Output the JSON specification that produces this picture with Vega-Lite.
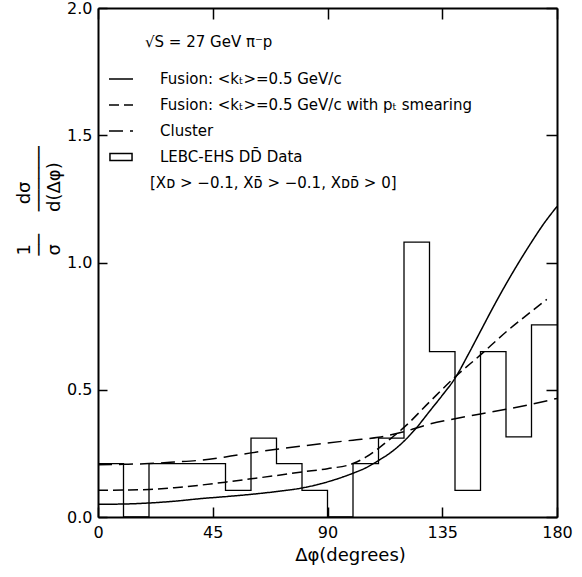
{
  "$schema": "https://vega.github.io/schema/vega-lite/v6.json",
  "width": 459,
  "height": 509,
  "autosize": {"type": "none"},
  "padding": {"left": 98, "top": 8, "right": 25, "bottom": 60},
  "background": "white",
  "config": {
    "view": {"stroke": null},
    "font": "DejaVu Sans",
    "axis": {"grid": false, "labelFont": "DejaVu Sans", "titleFont": "DejaVu Sans", "labelColor": "black", "titleColor": "black", "tickColor": "black", "domainColor": "black"}
  },
  "datasets": {
    "hist": [
      {"phi": 0, "value": 0.21, "series": "LEBC-EHS DD̄ Data"},
      {"phi": 10, "value": 0, "series": "LEBC-EHS DD̄ Data"},
      {"phi": 20, "value": 0.21, "series": "LEBC-EHS DD̄ Data"},
      {"phi": 30, "value": 0.21, "series": "LEBC-EHS DD̄ Data"},
      {"phi": 40, "value": 0.21, "series": "LEBC-EHS DD̄ Data"},
      {"phi": 50, "value": 0.105, "series": "LEBC-EHS DD̄ Data"},
      {"phi": 60, "value": 0.31, "series": "LEBC-EHS DD̄ Data"},
      {"phi": 70, "value": 0.21, "series": "LEBC-EHS DD̄ Data"},
      {"phi": 80, "value": 0.105, "series": "LEBC-EHS DD̄ Data"},
      {"phi": 90, "value": 0, "series": "LEBC-EHS DD̄ Data"},
      {"phi": 100, "value": 0.21, "series": "LEBC-EHS DD̄ Data"},
      {"phi": 110, "value": 0.31, "series": "LEBC-EHS DD̄ Data"},
      {"phi": 120, "value": 1.08, "series": "LEBC-EHS DD̄ Data"},
      {"phi": 130, "value": 0.65, "series": "LEBC-EHS DD̄ Data"},
      {"phi": 140, "value": 0.105, "series": "LEBC-EHS DD̄ Data"},
      {"phi": 150, "value": 0.65, "series": "LEBC-EHS DD̄ Data"},
      {"phi": 160, "value": 0.315, "series": "LEBC-EHS DD̄ Data"},
      {"phi": 170, "value": 0.755, "series": "LEBC-EHS DD̄ Data"},
      {"phi": 180, "value": 0.755, "series": "LEBC-EHS DD̄ Data"}
    ],
    "curves": [
      {"phi": 0, "value": 0.05, "series": "Fusion: <kₜ>=0.5 GeV/c"},
      {"phi": 10, "value": 0.051, "series": "Fusion: <kₜ>=0.5 GeV/c"},
      {"phi": 20, "value": 0.055, "series": "Fusion: <kₜ>=0.5 GeV/c"},
      {"phi": 30, "value": 0.062, "series": "Fusion: <kₜ>=0.5 GeV/c"},
      {"phi": 40, "value": 0.072, "series": "Fusion: <kₜ>=0.5 GeV/c"},
      {"phi": 50, "value": 0.08, "series": "Fusion: <kₜ>=0.5 GeV/c"},
      {"phi": 60, "value": 0.089, "series": "Fusion: <kₜ>=0.5 GeV/c"},
      {"phi": 70, "value": 0.1, "series": "Fusion: <kₜ>=0.5 GeV/c"},
      {"phi": 80, "value": 0.114, "series": "Fusion: <kₜ>=0.5 GeV/c"},
      {"phi": 90, "value": 0.138, "series": "Fusion: <kₜ>=0.5 GeV/c"},
      {"phi": 100, "value": 0.172, "series": "Fusion: <kₜ>=0.5 GeV/c"},
      {"phi": 105, "value": 0.193, "series": "Fusion: <kₜ>=0.5 GeV/c"},
      {"phi": 110, "value": 0.222, "series": "Fusion: <kₜ>=0.5 GeV/c"},
      {"phi": 115, "value": 0.255, "series": "Fusion: <kₜ>=0.5 GeV/c"},
      {"phi": 120, "value": 0.298, "series": "Fusion: <kₜ>=0.5 GeV/c"},
      {"phi": 125, "value": 0.352, "series": "Fusion: <kₜ>=0.5 GeV/c"},
      {"phi": 130, "value": 0.415, "series": "Fusion: <kₜ>=0.5 GeV/c"},
      {"phi": 135, "value": 0.478, "series": "Fusion: <kₜ>=0.5 GeV/c"},
      {"phi": 140, "value": 0.545, "series": "Fusion: <kₜ>=0.5 GeV/c"},
      {"phi": 145, "value": 0.635, "series": "Fusion: <kₜ>=0.5 GeV/c"},
      {"phi": 150, "value": 0.73, "series": "Fusion: <kₜ>=0.5 GeV/c"},
      {"phi": 155, "value": 0.825, "series": "Fusion: <kₜ>=0.5 GeV/c"},
      {"phi": 160, "value": 0.915, "series": "Fusion: <kₜ>=0.5 GeV/c"},
      {"phi": 165, "value": 1.0, "series": "Fusion: <kₜ>=0.5 GeV/c"},
      {"phi": 170, "value": 1.08, "series": "Fusion: <kₜ>=0.5 GeV/c"},
      {"phi": 175, "value": 1.155, "series": "Fusion: <kₜ>=0.5 GeV/c"},
      {"phi": 180, "value": 1.22, "series": "Fusion: <kₜ>=0.5 GeV/c"},
      {"phi": 0, "value": 0.105, "series": "Fusion: <kₜ>=0.5 GeV/c with pₜ smearing"},
      {"phi": 10, "value": 0.106, "series": "Fusion: <kₜ>=0.5 GeV/c with pₜ smearing"},
      {"phi": 20, "value": 0.108, "series": "Fusion: <kₜ>=0.5 GeV/c with pₜ smearing"},
      {"phi": 30, "value": 0.115, "series": "Fusion: <kₜ>=0.5 GeV/c with pₜ smearing"},
      {"phi": 40, "value": 0.125, "series": "Fusion: <kₜ>=0.5 GeV/c with pₜ smearing"},
      {"phi": 50, "value": 0.137, "series": "Fusion: <kₜ>=0.5 GeV/c with pₜ smearing"},
      {"phi": 60, "value": 0.15, "series": "Fusion: <kₜ>=0.5 GeV/c with pₜ smearing"},
      {"phi": 70, "value": 0.163, "series": "Fusion: <kₜ>=0.5 GeV/c with pₜ smearing"},
      {"phi": 80, "value": 0.177, "series": "Fusion: <kₜ>=0.5 GeV/c with pₜ smearing"},
      {"phi": 90, "value": 0.19, "series": "Fusion: <kₜ>=0.5 GeV/c with pₜ smearing"},
      {"phi": 100, "value": 0.21, "series": "Fusion: <kₜ>=0.5 GeV/c with pₜ smearing"},
      {"phi": 105, "value": 0.235, "series": "Fusion: <kₜ>=0.5 GeV/c with pₜ smearing"},
      {"phi": 110, "value": 0.27, "series": "Fusion: <kₜ>=0.5 GeV/c with pₜ smearing"},
      {"phi": 115, "value": 0.31, "series": "Fusion: <kₜ>=0.5 GeV/c with pₜ smearing"},
      {"phi": 120, "value": 0.352, "series": "Fusion: <kₜ>=0.5 GeV/c with pₜ smearing"},
      {"phi": 130, "value": 0.452, "series": "Fusion: <kₜ>=0.5 GeV/c with pₜ smearing"},
      {"phi": 140, "value": 0.55, "series": "Fusion: <kₜ>=0.5 GeV/c with pₜ smearing"},
      {"phi": 150, "value": 0.637, "series": "Fusion: <kₜ>=0.5 GeV/c with pₜ smearing"},
      {"phi": 160, "value": 0.727, "series": "Fusion: <kₜ>=0.5 GeV/c with pₜ smearing"},
      {"phi": 170, "value": 0.808, "series": "Fusion: <kₜ>=0.5 GeV/c with pₜ smearing"},
      {"phi": 176, "value": 0.855, "series": "Fusion: <kₜ>=0.5 GeV/c with pₜ smearing"},
      {"phi": 0, "value": 0.205, "series": "Cluster"},
      {"phi": 10, "value": 0.207, "series": "Cluster"},
      {"phi": 20, "value": 0.21, "series": "Cluster"},
      {"phi": 30, "value": 0.216, "series": "Cluster"},
      {"phi": 40, "value": 0.223, "series": "Cluster"},
      {"phi": 50, "value": 0.236, "series": "Cluster"},
      {"phi": 60, "value": 0.252, "series": "Cluster"},
      {"phi": 70, "value": 0.266, "series": "Cluster"},
      {"phi": 80, "value": 0.279, "series": "Cluster"},
      {"phi": 90, "value": 0.291, "series": "Cluster"},
      {"phi": 100, "value": 0.302, "series": "Cluster"},
      {"phi": 110, "value": 0.313, "series": "Cluster"},
      {"phi": 120, "value": 0.335, "series": "Cluster"},
      {"phi": 130, "value": 0.365, "series": "Cluster"},
      {"phi": 140, "value": 0.386, "series": "Cluster"},
      {"phi": 150, "value": 0.405, "series": "Cluster"},
      {"phi": 160, "value": 0.423, "series": "Cluster"},
      {"phi": 170, "value": 0.443, "series": "Cluster"},
      {"phi": 180, "value": 0.466, "series": "Cluster"}
    ]
  },
  "layer": [
    {
      "data": {"name": "hist"},
      "mark": {"type": "line", "interpolate": "step-after", "strokeWidth": 1.3, "color": "black"},
      "encoding": {
        "x": {
          "field": "phi", "type": "quantitative",
          "scale": {"domain": [0, 180], "nice": false, "zero": false},
          "axis": {
            "orient": "bottom", "values": [0, 45, 90, 135, 180], "format": "d",
            "tickSize": -10, "tickWidth": 1.5, "domainWidth": 2,
            "labelFontSize": 16, "labelPadding": 17, "labelFlush": false,
            "title": "Δφ(degrees)", "titleFontSize": 18, "titleFontWeight": "normal",
            "titleX": 252, "titleY": 29, "titleBaseline": "top", "titleAlign": "center"
          }
        },
        "y": {
          "field": "value", "type": "quantitative",
          "scale": {"domain": [0, 2], "nice": false},
          "axis": {
            "orient": "left", "values": [0, 0.5, 1, 1.5, 2], "format": ".1f",
            "tickSize": -9, "tickWidth": 1.5, "domainWidth": 2,
            "labelFontSize": 16, "labelPadding": 15,
            "title": [
              "\u00a0\u200a1\u00a0\u00a0\u00a0\u00a0\u00a0\u00a0\u2009\u200ad\u03c3",
              "\u200a\u2500\u2500\u00a0\u00a0\u00a0\u2009\u200a\u2500\u2500\u2500\u2500\u2500\u2500",
              "\u00a0\u200a\u03c3\u00a0\u00a0\u00a0\u00a0\u00a0\u2009d(\u0394\u03c6)"
            ],
            "titleFontSize": 18, "titleFontWeight": "normal", "titleLineHeight": 15,
            "titleAngle": -90, "titleAlign": "left", "titleBaseline": "top",
            "titleX": -83, "titleY": 247
          }
        },
        "strokeDash": {
          "field": "series", "type": "nominal",
          "scale": {
            "domain": [
              "Fusion: <kₜ>=0.5 GeV/c",
              "Fusion: <kₜ>=0.5 GeV/c with pₜ smearing",
              "Cluster",
              "LEBC-EHS DD̄ Data",
              "[Xᴅ > −0.1, Xᴅ̄ > −0.1, Xᴅᴅ̄ > 0]"
            ],
            "range": [[1, 0], [10, 5], [14, 7], [1, 0], [1, 0]]
          },
          "legend": {
            "orient": "none", "legendX": 10, "legendY": 27, "padding": 0,
            "title": "√S = 27 GeV π⁻p", "titleFontSize": 15, "titleFontWeight": "normal", "titleColor": "black", "titleFont": "DejaVu Sans", "titlePadding": 16,
            "labelFontSize": 15, "labelColor": "black", "labelFont": "DejaVu Sans", "labelOffset": 26, "labelLimit": 400,
            "symbolType": "stroke", "symbolSize": 576, "symbolStrokeWidth": 1.5, "symbolStrokeColor": "black",
            "rowPadding": 5,
            "encode": {
              "symbols": {"update": {
                "shape": {"signal": "substring(datum.value,0,1) === 'L' ? 'M-0.92,-0.3H0.92V0.3H-0.92Z' : 'stroke'"},
                "fill": {"value": "transparent"},
                "stroke": {"value": "black"},
                "strokeOpacity": {"signal": "substring(datum.value,0,1) === '[' ? 0 : 1"},
                "strokeDash": {"signal": "substring(datum.value,0,1) === 'C' ? [6,2,2,2] : (indexOf(datum.value, 'smearing') >= 0 ? [4,2.5] : [1,0])"}
              }},
              "labels": {"update": {"dx": {"signal": "substring(datum.value,0,1) === '[' ? -10 : 0"}}},
              "title": {"update": {"dx": {"value": 37}}}
            }
          }
        }
      }
    },
    {
      "data": {"name": "curves"},
      "mark": {"type": "line", "interpolate": "monotone", "strokeWidth": 1.5, "color": "black"},
      "encoding": {
        "x": {
          "field": "phi", "type": "quantitative",
          "axis": {"orient": "top", "values": [0, 45, 90, 135, 180], "labels": false, "tickSize": -11, "tickWidth": 1.5, "domainWidth": 2, "title": null}
        },
        "y": {
          "field": "value", "type": "quantitative",
          "axis": {"orient": "right", "values": [0, 0.5, 1, 1.5, 2], "labels": false, "tickSize": -11, "tickWidth": 1.5, "domainWidth": 2, "title": null}
        },
        "strokeDash": {"field": "series", "type": "nominal"}
      }
    }
  ],
  "resolve": {"axis": {"x": "independent", "y": "independent"}}
}
